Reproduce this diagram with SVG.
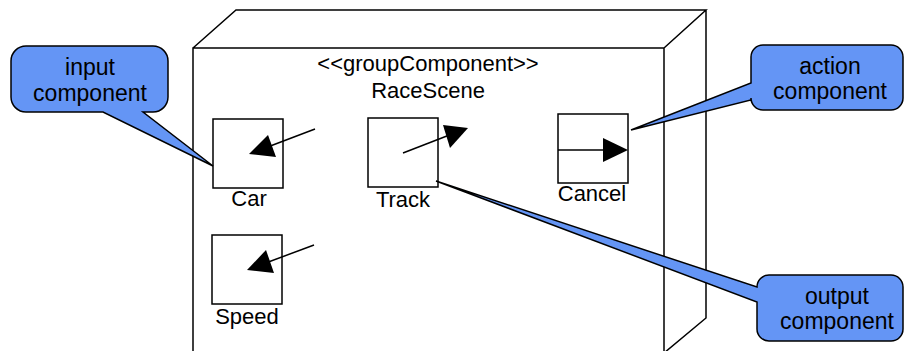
<svg xmlns="http://www.w3.org/2000/svg" width="904" height="351" viewBox="0 0 904 351">
<defs>
<style>
.ln{fill:none;stroke:#000;stroke-width:1.5}
.box{fill:#fff;stroke:#000;stroke-width:1.5}
.ah{fill:#000;stroke:none}
.t{font-family:"Liberation Sans",Arial,sans-serif;font-size:22px;fill:#000;text-anchor:middle}
.ct{font-family:"Liberation Sans",Arial,sans-serif;font-size:23px;fill:#000;text-anchor:middle}
.co{fill:#6495F5;stroke:#000;stroke-width:1.5;stroke-linejoin:miter}
</style>
</defs>
<rect width="904" height="351" fill="#fff"/>
<g id="raceScene">
<path class="ln" d="M193,351 V48 H664 V351 M193,48 L236,10 H706 L664,48 M706,10 V318 L664,353"/>
<text class="t" x="428" y="71">&lt;&lt;groupComponent&gt;&gt;</text>
<text class="t" x="428" y="98">RaceScene</text>
</g>
<g id="car">
<rect class="box" x="213" y="119" width="70" height="69"/>
<text class="t" x="249" y="206">Car</text>
</g>
<g id="track">
<rect class="box" x="368" y="118" width="70" height="69"/>
<text class="t" x="403" y="207">Track</text>
</g>
<g id="cancel">
<rect class="box" x="558" y="114" width="70" height="69"/>
<text class="t" x="592" y="201">Cancel</text>
</g>
<g id="speed">
<rect class="box" x="212" y="235" width="70" height="69"/>
<text class="t" x="247" y="324">Speed</text>
</g>
<g id="connectors">
<line class="ln" x1="315" y1="129" x2="265" y2="148"/>
<polygon class="ah" points="249,154 268,135 276,157"/>
<line class="ln" x1="403" y1="153" x2="452" y2="134"/>
<polygon class="ah" points="468,128 443,125 450,148"/>
<line class="ln" x1="558" y1="150" x2="605" y2="150"/>
<polygon class="ah" points="628,150 603,138 603,162"/>
<line class="ln" x1="314" y1="245" x2="263" y2="264"/>
<polygon class="ah" points="247,270 266,250 274,273"/>
</g>
<g id="inputCallout">
<path class="co" d="M26,46 H153 A15,15 0 0 1 168,61 V97 A15,15 0 0 1 153,112 H143 L213,166 L103,112 H26 A15,15 0 0 1 11,97 V61 A15,15 0 0 1 26,46 Z"/>
<text class="ct" x="90" y="75">input</text>
<text class="ct" x="90" y="101">component</text>
</g>
<g id="actionCallout">
<path class="co" d="M763,45 H891 A12,12 0 0 1 903,57 V98 A12,12 0 0 1 891,110 H763 A12,12 0 0 1 751,98 V100 L631,130 L751,83 V57 A12,12 0 0 1 763,45 Z"/>
<text class="ct" x="830" y="74">action</text>
<text class="ct" x="830" y="99">component</text>
</g>
<g id="outputCallout">
<path class="co" d="M769,275 H891 A12,12 0 0 1 903,287 V329 A12,12 0 0 1 891,341 H769 A12,12 0 0 1 757,329 V302 L436,181 L757,287 A12,12 0 0 1 769,275 Z"/>
<text class="ct" x="837" y="304">output</text>
<text class="ct" x="837" y="329">component</text>
</g>
</svg>
